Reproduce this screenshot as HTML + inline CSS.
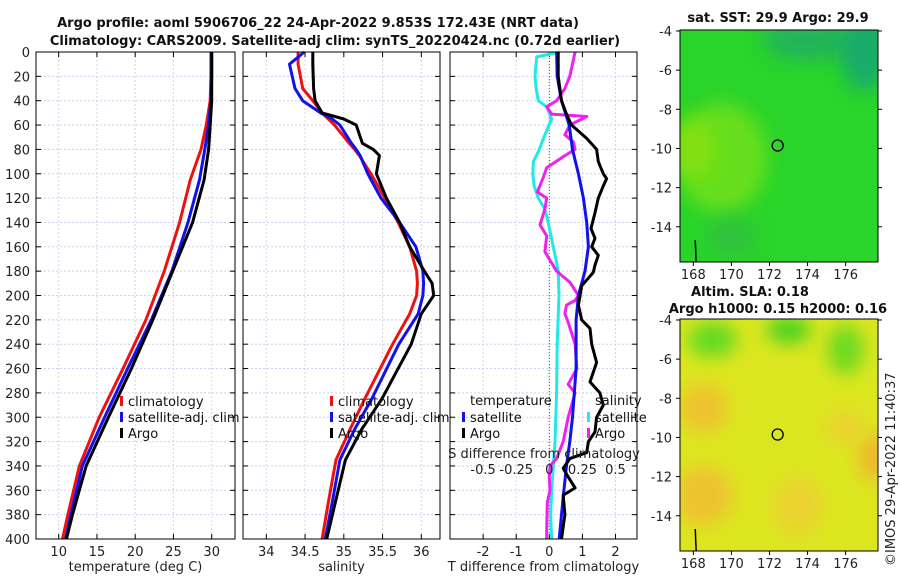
<!DOCTYPE html>
<html><head><meta charset="utf-8">
<style>
body{margin:0;background:#fff;}
svg{display:block;font-family:"DejaVu Sans","Liberation Sans",sans-serif;}
.t{font-size:13px;fill:#222;}
.tt{font-size:13px;font-weight:bold;fill:#111;}
.lg{font-size:13px;fill:#111;}
</style></head><body>
<svg id="c" width="900" height="580" viewBox="0 0 900 580">
<text class="tt" x="318" y="27" text-anchor="middle">Argo profile: aoml 5906706_22 24-Apr-2022 9.853S 172.43E (NRT data)</text>
<text class="tt" x="335" y="45" text-anchor="middle">Climatology: CARS2009. Satellite-adj clim: synTS_20220424.nc (0.72d earlier)</text>
<text class="tt" x="778" y="22" text-anchor="middle">sat. SST: 29.9 Argo: 29.9</text>
<text class="tt" x="750" y="296" text-anchor="middle">Altim. SLA: 0.18</text>
<text class="tt" x="778" y="313" text-anchor="middle">Argo h1000: 0.15 h2000: 0.16</text>
<text class="t" transform="translate(895,566) rotate(-90)">©IMOS 29-Apr-2022 11:40:37</text>
<g id="g"></g>
</svg>
<script>
const tDepths=[0,20,40,60,80,105,140,180,220,260,300,340,380,400];
const tClim=[29.9,29.9,29.8,29.3,28.6,27.2,25.8,23.8,21.4,18.4,15.3,12.7,11.2,10.5];
const tSat=[30,30,29.9,29.6,29.1,28.4,26.9,24.8,22.1,19.0,16.0,13.1,11.6,10.9];
const tArgo=[30,30,30,29.8,29.6,29.0,27.5,24.9,22.3,19.5,16.5,13.6,11.8,11.0];
const sDepths=[0,10,30,40,50,55,60,75,80,85,100,120,140,160,180,190,200,215,240,285,310,335,370,400];
const sClim=[34.41,34.41,34.47,34.60,34.72,34.80,34.88,35.07,35.14,35.20,35.35,35.53,35.70,35.85,35.94,35.95,35.94,35.85,35.63,35.27,35.08,34.90,34.80,34.72];
const sSat=[34.49,34.30,34.37,34.47,34.70,34.85,34.95,35.10,35.16,35.21,35.31,35.48,35.72,35.93,36.02,36.03,36.02,35.96,35.71,35.36,35.14,34.95,34.85,34.76];
const sArgo=[34.60,34.60,34.61,34.63,34.72,35.0,35.16,35.24,35.38,35.46,35.42,35.55,35.72,35.85,36.04,36.14,36.16,36.0,35.87,35.49,35.23,35.02,34.89,34.78];
const dSSatDepths=[0,4,20,30,40,45,55,68,82,90,100,110,120,129,140,160,180,200,240,280,320,340,360,380,400];
const dSSat=[0.08,-0.095,-0.108,-0.10,-0.083,-0.02,0.018,-0.033,-0.083,-0.12,-0.125,-0.115,-0.083,-0.033,-0.008,0.03,0.068,0.073,0.06,0.055,0.043,0.03,0.018,0.01,0.018];
const dSArgoDepths=[0,20,30,40,45,51,53,60,68,74,80,86,95,103,115,120,129,142,151,164,180,189,200,204,208,215,222,240,260,273,280,300,320,334,340,349,360,370,392,400];
const dSArgo=[0.195,0.155,0.118,0.055,-0.02,0.018,0.283,0.155,0.118,0.183,0.195,0.105,-0.02,-0.045,-0.09,-0.02,-0.033,-0.07,-0.02,-0.033,0.055,0.155,0.22,0.195,0.13,0.118,0.143,0.195,0.208,0.143,0.195,0.143,0.105,0.055,0.005,0,0.005,-0.015,-0.02,-0.02];
const dTSatDepths=[0,20,40,60,80,100,120,140,160,180,200,220,260,300,320,340,360,380,400];
const dTSat=[0.22,0.24,0.37,0.60,0.70,0.88,1.03,1.13,1.18,1.08,0.88,0.81,0.81,0.70,0.62,0.52,0.44,0.37,0.30];
const dTArgoDepths=[0,20,40,51,60,71,80,90,100,104,110,120,132,145,153,160,167,175,181,192,200,208,220,227,240,255,271,280,290,300,312,320,329,334,342,349,358,364,380,400];
const dTArgo=[0.27,0.27,0.37,0.52,0.67,1.13,1.43,1.48,1.63,1.73,1.63,1.48,1.38,1.26,1.38,1.28,1.48,1.38,1.33,0.98,0.93,0.88,0.98,1.23,1.28,1.43,1.23,1.53,1.63,1.43,1.38,1.18,1.13,0.62,0.42,0.57,0.78,0.42,0.47,0.37];
const depthTicks=[0,20,40,60,80,100,120,140,160,180,200,220,240,260,280,300,320,340,360,380,400];
const tTicks=[10,15,20,25,30];
const sTicks=[34,34.5,35,35.5,36];
const dtTicks=[-2,-1,0,1,2];
const dsTicks=[-0.5,-0.25,0,0.25,0.5];
const lonTicks=[168,170,172,174,176];
const latTicks=[-4,-6,-8,-10,-12,-14];

const NS='http://www.w3.org/2000/svg';
const G=document.getElementById('g');
function el(tag,attrs,parent){const e=document.createElementNS(NS,tag);for(const k in attrs)e.setAttribute(k,attrs[k]);(parent||G).appendChild(e);return e;}
const Y0=52,Y1=539;
const yD=d=>Y0+(d/400)*(Y1-Y0);
const P=[{x0:36,x1:235,lo:10-22.7/7.65,hi:10+176.3/7.65},{x0:243,x1:440,lo:34-23.3/77.5,hi:34+173.7/77.5},{x0:450,x1:637,lo:-99.3/33.1,hi:87.7/33.1}];
function sx(p,v){return p.x0+(v-p.lo)/(p.hi-p.lo)*(p.x1-p.x0);}

function panel(i,ticks,showY,xlabel,fmt){
  const p=P[i];
  const g=el('g',{});
  
  
  depthTicks.forEach(d=>{
    const l=el('line',{x1:p.x0,x2:p.x1,y1:yD(d),y2:yD(d),stroke:'#c8d2ee','stroke-dasharray':'2,2'},g);
    
    el('line',{x1:p.x0,x2:p.x0+5,y1:yD(d),y2:yD(d),stroke:'#000'},g);
    el('line',{x1:p.x1-5,x2:p.x1,y1:yD(d),y2:yD(d),stroke:'#000'},g);
    if(showY){const t=el('text',{x:p.x0-6,y:yD(d)+5,'text-anchor':'end',class:'t'},g);t.textContent=d;
      }
  });
  ticks.forEach(v=>{
    const x=sx(p,v);
    const l=el('line',{x1:x,x2:x,y1:Y0,y2:Y1,stroke:'#d8d0e8','stroke-dasharray':'2,2'},g);
    
    el('line',{x1:x,x2:x,y1:Y1,y2:Y1-5,stroke:'#000'},g);
    el('line',{x1:x,x2:x,y1:Y0,y2:Y0+5,stroke:'#000'},g);
    const t=el('text',{x:x,y:Y1+17,'text-anchor':'middle',class:'t'},g);t.textContent=fmt(v);
    
  });
  const xl=el('text',{x:(p.x0+p.x1)/2,y:571,'text-anchor':'middle',class:'t'},g);xl.textContent=xlabel;
  
  return g;
}
function frame(i){const p=P[i];const r=el('rect',{x:p.x0,y:Y0,width:p.x1-p.x0,height:Y1-Y0,fill:'none',stroke:'#000'});
  }
function series(i,dep,vals,color,name,w){
  const p=P[i];
  const pts=vals.map((v,k)=>sx(p,v).toFixed(1)+','+yD(dep[k]).toFixed(1)).join(' ');
  const l=el('polyline',{points:pts,fill:'none',stroke:color,'stroke-width':w||3,'stroke-linejoin':'round'});
  
}
function legend(x,y,items){
  items.forEach((it,k)=>{
    const yy=y+k*16;
    if(it.c){const r=el('rect',{x:x,y:yy-10,width:3,height:10,fill:it.c});
      }
    const t=el('text',{x:x+(it.c?8:0),y:yy,class:'lg'});t.textContent=it.t;
    
  });
}

panel(0,tTicks,true,'temperature (deg C)',v=>v);
panel(1,sTicks,false,'salinity',v=>v);
panel(2,dtTicks,false,'T difference from climatology',v=>v);
const z=el('line',{x1:sx(P[2],0),x2:sx(P[2],0),y1:Y0,y2:Y1,stroke:'#555','stroke-dasharray':'1,2'});


series(0,tDepths,tClim,'#ee1111','temperature-climatology-line');
series(0,tDepths,tSat,'#1111ee','temperature-satellite-line');
series(0,tDepths,tArgo,'#000','temperature-argo-line');
series(1,sDepths,sClim,'#ee1111','salinity-climatology-line');
series(1,sDepths,sSat,'#1111ee','salinity-satellite-line');
series(1,sDepths,sArgo,'#000','salinity-argo-line');
// S differences drawn on secondary axis: 0.5 S == 2 T
series(2,dSSatDepths,dSSat.map(v=>v*4),'#22e8e8','s-diff-satellite-line');
series(2,dSArgoDepths,dSArgo.map(v=>v*4),'#ee22ee','s-diff-argo-line');
series(2,dTSatDepths,dTSat,'#1111ee','t-diff-satellite-line');
series(2,dTArgoDepths,dTArgo,'#000','t-diff-argo-line');

const st=el('text',{x:544,y:458,'text-anchor':'middle',class:'t'});st.textContent='S difference from climatology';

dsTicks.forEach(v=>{const t=el('text',{x:sx(P[2],v*4),y:474,'text-anchor':'middle',class:'t'});t.textContent=v;
  });

legend(120,406,[{c:'#ee1111',t:'climatology'},{c:'#1111ee',t:'satellite-adj. clim'},{c:'#000',t:'Argo'}]);
legend(330,406,[{c:'#ee1111',t:'climatology'},{c:'#1111ee',t:'satellite-adj. clim'},{c:'#000',t:'Argo'}]);
legend(470,405,[{t:'temperature'}]);
legend(462,422,[{c:'#1111ee',t:'satellite'},{c:'#000',t:'Argo'}]);
legend(595,405,[{t:'salinity'}]);
legend(587,422,[{c:'#22e8e8',t:'satellite'},{c:'#ee22ee',t:'Argo'}]);
[0,1,2].forEach(frame);

const MX0=680,MX1=878;
const lonX=l=>MX0+(l-167.3)/(177.7-167.3)*(MX1-MX0);
function map(y0,y1,base,blobs,name){
  const latY=la=>y0+(-3.95-la)/(15.8-3.95)*(y1-y0);
  const g=el('g',{});
  
  const id=name+'-clip';
  const cp=el('clipPath',{id:id},g);el('rect',{x:MX0,y:y0,width:MX1-MX0,height:y1-y0},cp);
  const f=el('filter',{id:name+'-blur',x:'-50%',y:'-50%',width:'200%',height:'200%'},g);
  el('feGaussianBlur',{stdDeviation:9},f);
  const inner=el('g',{'clip-path':'url(#'+id+')'},g);
  el('rect',{x:MX0,y:y0,width:MX1-MX0,height:y1-y0,fill:base},inner);
  blobs.forEach(b=>el('ellipse',{cx:lonX(b[0]),cy:latY(b[1]),rx:b[2],ry:b[3],fill:b[4],opacity:b[5]||0.9,filter:'url(#'+name+'-blur)'},inner));
  const c=el('circle',{cx:lonX(172.43),cy:latY(-9.85),r:5.5,fill:'none',stroke:'#000','stroke-width':1.3},g);
  
  el('rect',{x:MX0,y:y0,width:MX1-MX0,height:y1-y0,fill:'none',stroke:'#000'},g);
  lonTicks.forEach(l=>{const x=lonX(l);el('line',{x1:x,x2:x,y1:y1,y2:y1+4,stroke:'#000'},g);
    const t=el('text',{x:x,y:y1+17,'text-anchor':'middle',class:'t'},g);t.textContent=l;
    });
  latTicks.forEach(la=>{const y=latY(la);el('line',{x1:MX0-4,x2:MX0,y1:y,y2:y,stroke:'#000'},g);
    el('line',{x1:MX1,x2:MX1+4,y1:y,y2:y,stroke:'#000'},g);
    const t=el('text',{x:MX0-8,y:y+5,'text-anchor':'end',class:'t'},g);t.textContent=la;
    });
  el('path',{d:`M${lonX(168.1)} ${y1-22} L${lonX(168.15)} ${y1}`,stroke:'#000','stroke-width':1.5},g);
}
map(30,262,'#2ad42a',[[169.5,-10.5,45,55,'#6ee01a'],[168,-10,20,30,'#88e010'],[174,-4.5,45,20,'#22b060'],[177,-5,25,40,'#18a870'],[170,-14.5,25,20,'#30c040']],'sst-map');
map(319,551,'#dce620',[[169,-5,25,18,'#58d820'],[173,-4.5,22,14,'#38d020'],[176,-5.5,18,25,'#60d820'],[168.5,-8.5,25,25,'#f0c030'],[168.5,-13,30,30,'#f0c030'],[177.5,-11,15,25,'#f0b030'],[173.5,-13.5,25,30,'#ecd030'],[176,-9.5,20,18,'#ecd030']],'sla-map');
</script>
</body></html>
